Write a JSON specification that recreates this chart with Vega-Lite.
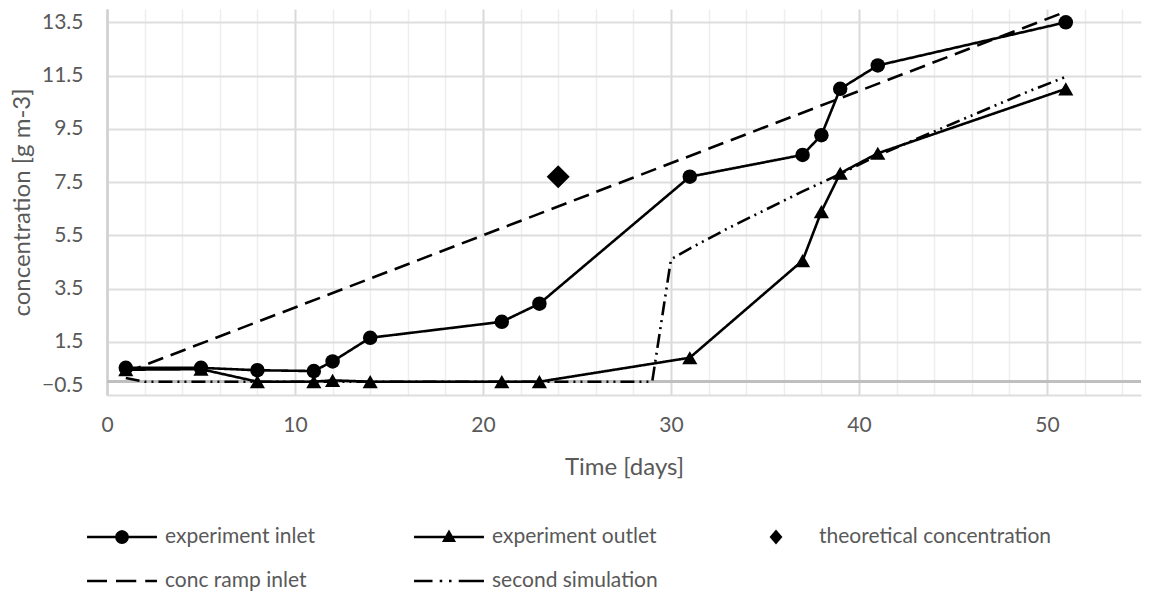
{
  "$schema": "https://vega.github.io/schema/vega-lite/v6.json",
  "width": 1034,
  "height": 386,
  "autosize": {"type": "none"},
  "padding": {"left": 107, "top": 9, "right": 11, "bottom": 196},
  "background": "white",
  "config": {
    "font": "Lato",
    "view": {"stroke": null},
    "axis": {"labelColor": "#595959", "titleColor": "#595959", "titleFontWeight": "normal", "labelFont": "Lato", "titleFont": "Lato"}
  },
  "data": {
    "values": [
      {"series": "experiment inlet", "day": 1, "conc": 0.52},
      {"series": "experiment inlet", "day": 5, "conc": 0.52},
      {"series": "experiment inlet", "day": 8, "conc": 0.43},
      {"series": "experiment inlet", "day": 11, "conc": 0.40},
      {"series": "experiment inlet", "day": 12, "conc": 0.76},
      {"series": "experiment inlet", "day": 14, "conc": 1.65},
      {"series": "experiment inlet", "day": 21, "conc": 2.25},
      {"series": "experiment inlet", "day": 23, "conc": 2.93},
      {"series": "experiment inlet", "day": 31, "conc": 7.7},
      {"series": "experiment inlet", "day": 37, "conc": 8.52},
      {"series": "experiment inlet", "day": 38, "conc": 9.26},
      {"series": "experiment inlet", "day": 39, "conc": 11.0},
      {"series": "experiment inlet", "day": 41, "conc": 11.88},
      {"series": "experiment inlet", "day": 51, "conc": 13.5},
      {"series": "experiment outlet", "day": 1, "conc": 0.45},
      {"series": "experiment outlet", "day": 5, "conc": 0.47},
      {"series": "experiment outlet", "day": 8, "conc": 0.0},
      {"series": "experiment outlet", "day": 11, "conc": 0.0},
      {"series": "experiment outlet", "day": 12, "conc": 0.05},
      {"series": "experiment outlet", "day": 14, "conc": 0.0},
      {"series": "experiment outlet", "day": 21, "conc": 0.0},
      {"series": "experiment outlet", "day": 23, "conc": 0.0},
      {"series": "experiment outlet", "day": 31, "conc": 0.9},
      {"series": "experiment outlet", "day": 37, "conc": 4.55},
      {"series": "experiment outlet", "day": 38, "conc": 6.39},
      {"series": "experiment outlet", "day": 39, "conc": 7.83},
      {"series": "experiment outlet", "day": 41, "conc": 8.58},
      {"series": "experiment outlet", "day": 51, "conc": 11.0},
      {"series": "theoretical concentration", "day": 24, "conc": 7.7},
      {"series": "conc ramp inlet", "day": 1, "conc": 0.35},
      {"series": "conc ramp inlet", "day": 51, "conc": 13.9},
      {"series": "second simulation", "day": 1, "conc": 0.14},
      {"series": "second simulation", "day": 2, "conc": 0.0},
      {"series": "second simulation", "day": 29, "conc": 0.0},
      {"series": "second simulation", "day": 30, "conc": 4.6},
      {"series": "second simulation", "day": 31, "conc": 5.0},
      {"series": "second simulation", "day": 33, "conc": 5.75},
      {"series": "second simulation", "day": 35, "conc": 6.45},
      {"series": "second simulation", "day": 37, "conc": 7.15},
      {"series": "second simulation", "day": 39, "conc": 7.8},
      {"series": "second simulation", "day": 41, "conc": 8.5},
      {"series": "second simulation", "day": 43, "conc": 9.1},
      {"series": "second simulation", "day": 45, "conc": 9.7},
      {"series": "second simulation", "day": 47, "conc": 10.3},
      {"series": "second simulation", "day": 49, "conc": 10.9},
      {"series": "second simulation", "day": 51, "conc": 11.45}
    ]
  },
  "encoding": {
    "x": {
      "field": "day", "type": "quantitative",
      "scale": {"domain": [0, 55], "nice": false, "zero": false},
      "axis": {
        "title": "Time [days]",
        "values": [0,2,4,6,8,10,12,14,16,18,20,22,24,26,28,30,32,34,36,38,40,42,44,46,48,50,52,54],
        "labelExpr": "datum.value % 10 === 0 ? datum.label : ''",
        "labelFlush": false,
        "labelFontSize": 21,
        "labelBaseline": "middle",
        "labelPadding": 30,
        "ticks": false,
        "tickSize": 0,
        "domain": false,
        "grid": true,
        "gridColor": {"condition": {"test": "datum.value % 10 === 0", "value": "#d9d9d9"}, "value": "#eeeeee"},
        "gridWidth": {"condition": {"test": "datum.value % 10 === 0", "value": 2}, "value": 1.5},
        "titleFontSize": 24,
        "titleY": 72,
        "titleBaseline": "middle"
      }
    },
    "y": {
      "field": "conc", "type": "quantitative",
      "scale": {"domain": [-0.5, 14], "nice": false, "zero": false},
      "axis": {
        "title": "concentration [g m-3]",
        "values": [-0.5, 1.5, 3.5, 5.5, 7.5, 9.5, 11.5, 13.5],
        "format": ".1f",
        "labelFontSize": 21,
        "labelPadding": 24,
        "labelFlush": true,
        "labelFlushOffset": 0,
        "ticks": false,
        "tickSize": 0,
        "domain": true,
        "domainColor": "#d0d0d0",
        "domainWidth": 2.5,
        "grid": true,
        "gridColor": "#dedede",
        "gridWidth": 2,
        "titleFontSize": 24,
        "titleX": -85,
        "titleY": 193,
        "titleAngle": -90,
        "titleAlign": "center",
        "titleBaseline": "middle"
      }
    }
  },
  "layer": [
    {
      "mark": {"type": "rule", "color": "#bfbfbf", "strokeWidth": 2.5},
      "encoding": {"y": {"datum": 0}, "x": {"datum": 0}, "x2": {"datum": 55}}
    },
    {
      "transform": [{"filter": {"field": "series", "oneOf": ["experiment inlet", "experiment outlet", "conc ramp inlet", "second simulation"]}}],
      "mark": {"type": "line", "color": "black", "strokeWidth": 2.6},
      "encoding": {
        "detail": {"field": "series"},
        "strokeDash": {
          "field": "series", "type": "nominal",
          "scale": {"domain": ["experiment inlet", "experiment outlet", "conc ramp inlet", "second simulation"], "range": [[1, 0], [1, 0], [16, 8], [14, 5, 2, 5, 2, 5]]},
          "legend": null
        }
      }
    },
    {
      "transform": [{"filter": {"field": "series", "equal": "experiment inlet"}}],
      "mark": {"type": "point", "filled": true, "color": "black", "opacity": 1, "shape": "circle", "size": 210}
    },
    {
      "transform": [{"filter": {"field": "series", "equal": "experiment outlet"}}],
      "mark": {"type": "point", "filled": true, "color": "black", "opacity": 1, "shape": "triangle-up", "size": 230}
    },
    {
      "transform": [{"filter": {"field": "series", "equal": "theoretical concentration"}}],
      "mark": {"type": "point", "filled": true, "color": "black", "opacity": 1, "shape": "M0,-1L1,0L0,1L-1,0Z", "size": 529}
    },
    {
      "mark": {"type": "point", "filled": true, "fill": "black", "opacity": 0},
      "encoding": {
        "shape": {
          "field": "series", "type": "nominal",
          "scale": {
            "domain": ["experiment inlet", "experiment outlet", "theoretical concentration", "conc ramp inlet", "second simulation"],
            "range": [
              "M-2.33,-0.085L2.33,-0.085L2.33,0.085L-2.33,0.085ZM0.46,0L0.425,0.176L0.325,0.325L0.176,0.425L0,0.46L-0.176,0.425L-0.325,0.325L-0.425,0.176L-0.46,0L-0.425,-0.176L-0.325,-0.325L-0.176,-0.425L0,-0.46L0.176,-0.425L0.325,-0.325L0.425,-0.176Z",
              "M-2.33,-0.085L2.33,-0.085L2.33,0.085L-2.33,0.085ZM-0.47,0.33L0,-0.5L0.47,0.33Z",
              "M0,-0.5L0.43,0L0,0.5L-0.43,0Z",
              "M-2.33,-0.085L-1.0,-0.085L-1.0,0.085L-2.33,0.085ZM-0.4,-0.085L0.95,-0.085L0.95,0.085L-0.4,0.085ZM1.55,-0.085L2.33,-0.085L2.33,0.085L1.55,0.085Z",
              "M-2.33,-0.085L-1.1,-0.085L-1.1,0.085L-2.33,0.085ZM-0.62,-0.085L-0.45,-0.085L-0.45,0.085L-0.62,0.085ZM0.0,-0.085L0.17,-0.085L0.17,0.085L0.0,0.085ZM0.65,-0.085L2.33,-0.085L2.33,0.085L0.65,0.085Z"
            ]
          },
          "legend": {
            "title": null,
            "orient": "none",
            "direction": "horizontal",
            "legendX": 0,
            "legendY": 513,
            "columns": 3,
            "gridAlign": "all",
            "columnPadding": 16,
            "rowPadding": 19,
            "padding": 0,
            "symbolSize": 900,
            "symbolStrokeWidth": 0,
            "symbolFillColor": "black",
            "symbolOpacity": 1,
            "labelOffset": 28,
            "labelFontSize": 21,
            "labelFont": "Lato",
            "labelColor": "#595959",
            "labelLimit": 400,
            "encode": {
              "symbols": {
                "opacity": {"value": 1},
                "fill": {"value": "black"}
              }
            }
          }
        }
      }
    }
  ]
}
